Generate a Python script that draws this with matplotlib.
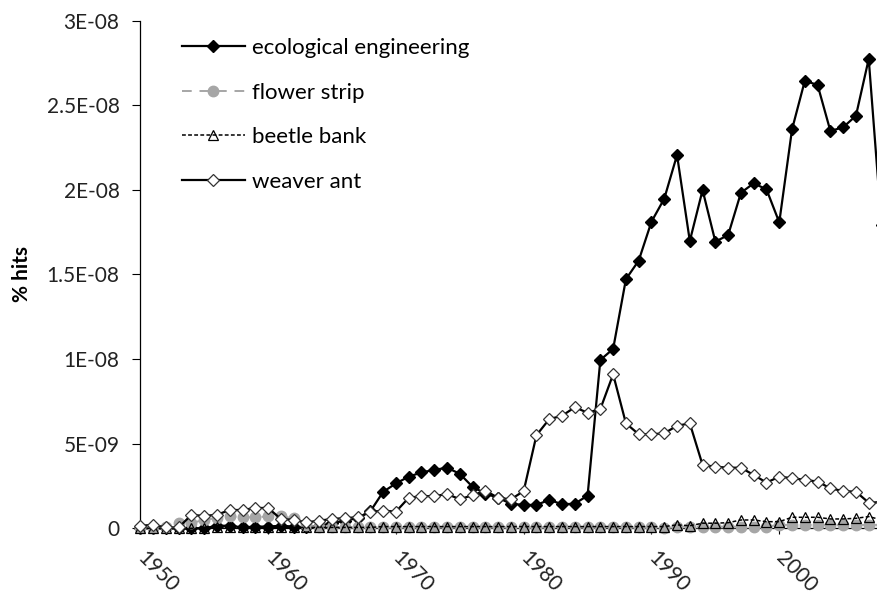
import matplotlib
matplotlib.use("Agg")
import matplotlib.pyplot as plt

years = list(range(1950, 2009))

eco_eng = [
    0, 0, 0, 0, 0, 0, 1.5e-10, 1.5e-10, 0.5e-10, 1e-10,
    1e-10, 1.5e-10, 1e-10, 0.5e-10, 1.5e-10, 3e-10, 4.5e-10, 6e-10, 1.0e-9, 2.15e-9,
    2.65e-9, 3.05e-9, 3.3e-9, 3.45e-9, 3.58e-9, 3.22e-9, 2.45e-9, 2.05e-9, 1.8e-9, 1.45e-9,
    1.38e-9, 1.38e-9, 1.68e-9, 1.42e-9, 1.45e-9, 1.93e-9, 9.95e-9, 1.06e-8, 1.472e-8, 1.582e-8,
    1.812e-8, 1.948e-8, 2.206e-8, 1.698e-8, 1.999e-8, 1.694e-8, 1.733e-8, 1.983e-8, 2.039e-8, 2.003e-8,
    1.808e-8, 2.358e-8, 2.645e-8, 2.62e-8, 2.348e-8, 2.37e-8, 2.438e-8, 2.774e-8, 1.79e-8,
]
flower_strip = [
    0, 0, 1e-10, 3e-10, 3e-10, 5e-10, 6e-10, 7e-10, 6.5e-10, 6.5e-10,
    7e-10, 7e-10, 6e-10, 2e-10, 0.5e-10, 0.5e-10, 0.5e-10, 0.5e-10, 0.5e-10, 0.5e-10,
    0.5e-10, 0.5e-10, 0.5e-10, 0.5e-10, 0.5e-10, 0.5e-10, 0.5e-10, 0.5e-10, 0.5e-10, 0.5e-10,
    0.5e-10, 0.5e-10, 0.5e-10, 0.5e-10, 0.5e-10, 0.5e-10, 0.5e-10, 0.5e-10, 0.5e-10, 0.5e-10,
    0.5e-10, 0, 1e-10, 1e-10, 1e-10, 1e-10, 1e-10, 1e-10, 1e-10, 1e-10,
    2e-10, 2e-10, 2e-10, 2e-10, 2e-10, 2e-10, 2e-10, 2e-10, 2e-10,
]
beetle_bank = [
    0, 0, 0, 0, 0, 0, 0.5e-10, 0.5e-10, 0.5e-10, 0.5e-10,
    0.5e-10, 0.5e-10, 0.5e-10, 0.5e-10, 0.5e-10, 0.5e-10, 0.5e-10, 0.5e-10, 0.5e-10, 1e-10,
    1e-10, 1e-10, 1e-10, 1e-10, 1e-10, 1e-10, 1e-10, 1e-10, 1e-10, 1e-10,
    1e-10, 1e-10, 1e-10, 1e-10, 1e-10, 1e-10, 1e-10, 1e-10, 1e-10, 1e-10,
    1e-10, 1e-10, 2e-10, 1.5e-10, 3e-10, 3e-10, 3.3e-10, 4.9e-10, 4.9e-10, 3.9e-10,
    3.9e-10, 6.5e-10, 6.5e-10, 6.5e-10, 5.5e-10, 5.5e-10, 5.9e-10, 6.9e-10, 5e-10,
]
weaver_ant = [
    1.5e-10, 2e-10, 0.5e-10, 0.5e-10, 7.9e-10, 7.3e-10, 8e-10, 1.08e-9, 1.08e-9, 1.2e-9,
    1.2e-9, 5.5e-10, 5e-10, 3.5e-10, 4.5e-10, 5.5e-10, 6e-10, 6.5e-10, 9.5e-10, 1.05e-9,
    9.8e-10, 1.8e-9, 1.9e-9, 1.9e-9, 2.02e-9, 1.72e-9, 1.95e-9, 2.22e-9, 1.8e-9, 1.71e-9,
    2.2e-9, 5.5e-9, 6.45e-9, 6.65e-9, 7.15e-9, 6.83e-9, 7.05e-9, 9.1e-9, 6.2e-9, 5.56e-9,
    5.56e-9, 5.61e-9, 6.06e-9, 6.2e-9, 3.74e-9, 3.64e-9, 3.58e-9, 3.58e-9, 3.15e-9, 2.7e-9,
    3.05e-9, 2.96e-9, 2.86e-9, 2.76e-9, 2.36e-9, 2.2e-9, 2.16e-9, 1.51e-9, 1.55e-9,
]

x_ticks = [1950, 1960, 1970, 1980, 1990, 2000]
y_ticks = [0, 5e-9, 1e-8, 1.5e-8, 2e-8, 2.5e-8, 3e-8]
y_labels = ["0", "5E-09", "1E-08", "1.5E-08", "2E-08", "2.5E-08", "3E-08"]

plt.rcParams["font.family"] = ["Lato", "DejaVu Sans"]

fig = plt.figure(figsize=(8.78, 5.98), dpi=100)
# plot area runs past the right edge of the picture, as in the original
ax = fig.add_axes([0.1598, 0.1166, 0.8733, 0.8488])

grey = "#a6a6a6"
ax.plot(years, eco_eng, color="black", lw=1.6, marker="D", ms=6.3,
        mfc="black", mec="black", label="ecological engineering", clip_on=False, zorder=3)
ax.plot(years, flower_strip, color=grey, lw=1.4, ls=(0, (5, 4)), marker="o", ms=7.5,
        mfc=grey, mec=grey, label="flower strip", clip_on=False, zorder=3)
ax.plot(years, beetle_bank, color="black", lw=1.1, ls=(0, (2.5, 1.5)), marker="^", ms=7,
        mfc="none", mec="black", mew=0.9, label="beetle bank", clip_on=False, zorder=3)
ax.plot(years, weaver_ant, color="black", lw=1.6, marker="D", ms=6.3,
        mfc="white", mec="#333333", mew=0.9, label="weaver ant", clip_on=False, zorder=3)

ax.set_xlim(1950, 2010)
ax.set_ylim(0, 3e-8)
ax.set_xticks(x_ticks)
ax.set_xticklabels([str(y) for y in x_ticks], rotation=-45, ha="left", va="center",
                   rotation_mode="anchor", fontsize=15, color="#222222")
ax.set_yticks(y_ticks)
ax.set_yticklabels(y_labels, fontsize=15, color="#222222")
ax.tick_params(axis="x", direction="out", length=4, width=0.8, pad=15)
ax.tick_params(axis="y", direction="out", length=6, width=0.8, pad=9)

for side in ["top", "right"]:
    ax.spines[side].set_visible(False)
for side in ["left", "bottom"]:
    ax.spines[side].set_linewidth(0.9)
    ax.spines[side].set_color("black")

ax.set_ylabel("% hits", fontsize=15, fontweight="bold")
ax.yaxis.set_label_coords(-0.141, 0.5)

ax.legend(loc="upper left", bbox_to_anchor=(0.207, 0.936), bbox_transform=fig.transFigure,
          frameon=False, fontsize=16, handlelength=2.84, handletextpad=0.32,
          labelspacing=1.1, borderpad=0, borderaxespad=0, numpoints=1)

fig.savefig("out.png", dpi=100)
